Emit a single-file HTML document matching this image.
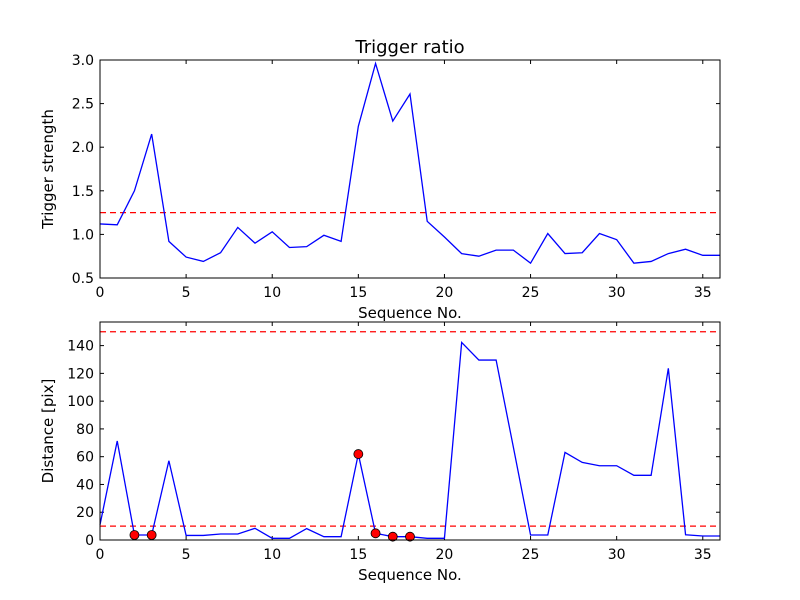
<!DOCTYPE html>
<html><head><meta charset="utf-8"><style>
body{margin:0;background:#fff;}
svg{display:block;font-family:"DejaVu Sans","Liberation Sans",sans-serif;}
</style></head><body>
<svg id="c" width="800" height="600"></svg>
<script>
const seq=[0,1,2,3,4,5,6,7,8,9,10,11,12,13,14,15,16,17,18,19,20,21,22,23,24,25,26,27,28,29,30,31,32,33,34,35,36];
const strength=[1.12,1.11,1.50,2.15,0.92,0.74,0.69,0.79,1.08,0.90,1.03,0.85,0.86,0.99,0.92,2.24,2.96,2.30,2.61,1.15,0.97,0.78,0.75,0.82,0.82,0.67,1.01,0.78,0.79,1.01,0.94,0.67,0.69,0.78,0.83,0.76,0.76];
const distance=[11,71.3,3.6,3.6,57.1,3.3,3.3,4.3,4.3,8.4,1.2,1.2,8.2,2.4,2.4,61.9,4.8,2.4,2.4,1.2,1.2,142.3,129.6,129.6,67,3.6,3.6,63.1,55.9,53.5,53.5,46.6,46.6,123.6,3.8,2.9,2.9];
const flagged=[2,3,15,16,17,18];
const strengthThreshold=1.25;
const distThresholds=[150,10];
const xTicks=[0,5,10,15,20,25,30,35];
const yTicksTop=[0.5,1.0,1.5,2.0,2.5,3.0];
const yTicksBot=[0,20,40,60,80,100,120,140];

const NS="http://www.w3.org/2000/svg";
const svg=document.getElementById('c');
function mk(t,a,p){const e=document.createElementNS(NS,t);for(const k in a)e.setAttribute(k,a[k]);(p||svg).appendChild(e);return e;}
const L=100,R=720;
const sx=v=>L+(v-0)/36*(R-L);
function axes(top,bot,ymin,ymax,yt,fmt,ylabel,name){
  const sy=v=>bot-(v-ymin)/(ymax-ymin)*(bot-top);
  const g=mk('g',{});
  
  
  xTicks.forEach(t=>{
    const x=sx(t);
    mk('line',{x1:x,x2:x,y1:bot,y2:bot-4,stroke:'#000'},g);
    mk('line',{x1:x,x2:x,y1:top,y2:top+4,stroke:'#000'},g);
    const tx=mk('text',{x:x,y:bot+19,'text-anchor':'middle','font-size':14},g);
    tx.textContent=t;
    
    
  });
  yt.forEach(t=>{
    const y=sy(t);
    mk('line',{x1:L,x2:L+4,y1:y,y2:y,stroke:'#000'},g);
    mk('line',{x1:R,x2:R-4,y1:y,y2:y,stroke:'#000'},g);
    const tx=mk('text',{x:L-6,y:y+5,'text-anchor':'end','font-size':14},g);
    tx.textContent=fmt(t);
    
    
  });
  const xl=mk('text',{x:(L+R)/2,y:bot+40,'text-anchor':'middle','font-size':15},g);
  xl.textContent='Sequence No.';
  
  
  const yl=mk('text',{x:0,y:0,'text-anchor':'middle','font-size':15,transform:`translate(${L-47},${(top+bot)/2}) rotate(-90)`},g);
  yl.textContent=ylabel;
  
  
  return {g,sy};
}
const A=axes(60,278,0.5,3.0,yTicksTop,v=>v.toFixed(1),'Trigger strength','top-axes');
let y=A.sy(strengthThreshold);
const th=mk('line',{x1:L,x2:R,y1:y,y2:y,stroke:'#f00','stroke-width':1.3,'stroke-dasharray':'6,4'});


const p1=mk('polyline',{points:seq.map((s,i)=>sx(s)+','+A.sy(strength[i])).join(' '),fill:'none',stroke:'#00f','stroke-width':1.3});


mk('rect',{x:L,y:60,width:R-L,height:218,fill:'none',stroke:'#000'});
const ti=mk('text',{x:(L+R)/2,y:53,'text-anchor':'middle','font-size':18});
ti.textContent='Trigger ratio';


const B=axes(322,540,0,157,yTicksBot,v=>v,'Distance [pix]','bottom-axes');
distThresholds.forEach(t=>{
  const yy=B.sy(t);
  const l=mk('line',{x1:L,x2:R,y1:yy,y2:yy,stroke:'#f00','stroke-width':1.3,'stroke-dasharray':'6,4'});
  
  
});
const p2=mk('polyline',{points:seq.map((s,i)=>sx(s)+','+B.sy(distance[i])).join(' '),fill:'none',stroke:'#00f','stroke-width':1.3});


flagged.forEach(i=>{
  const c=mk('circle',{cx:sx(seq[i]),cy:B.sy(distance[i]),r:4.5,fill:'#f00',stroke:'#000','stroke-width':0.8});
  
  
});
mk('rect',{x:L,y:322,width:R-L,height:218,fill:'none',stroke:'#000'});
</script>
</body></html>
